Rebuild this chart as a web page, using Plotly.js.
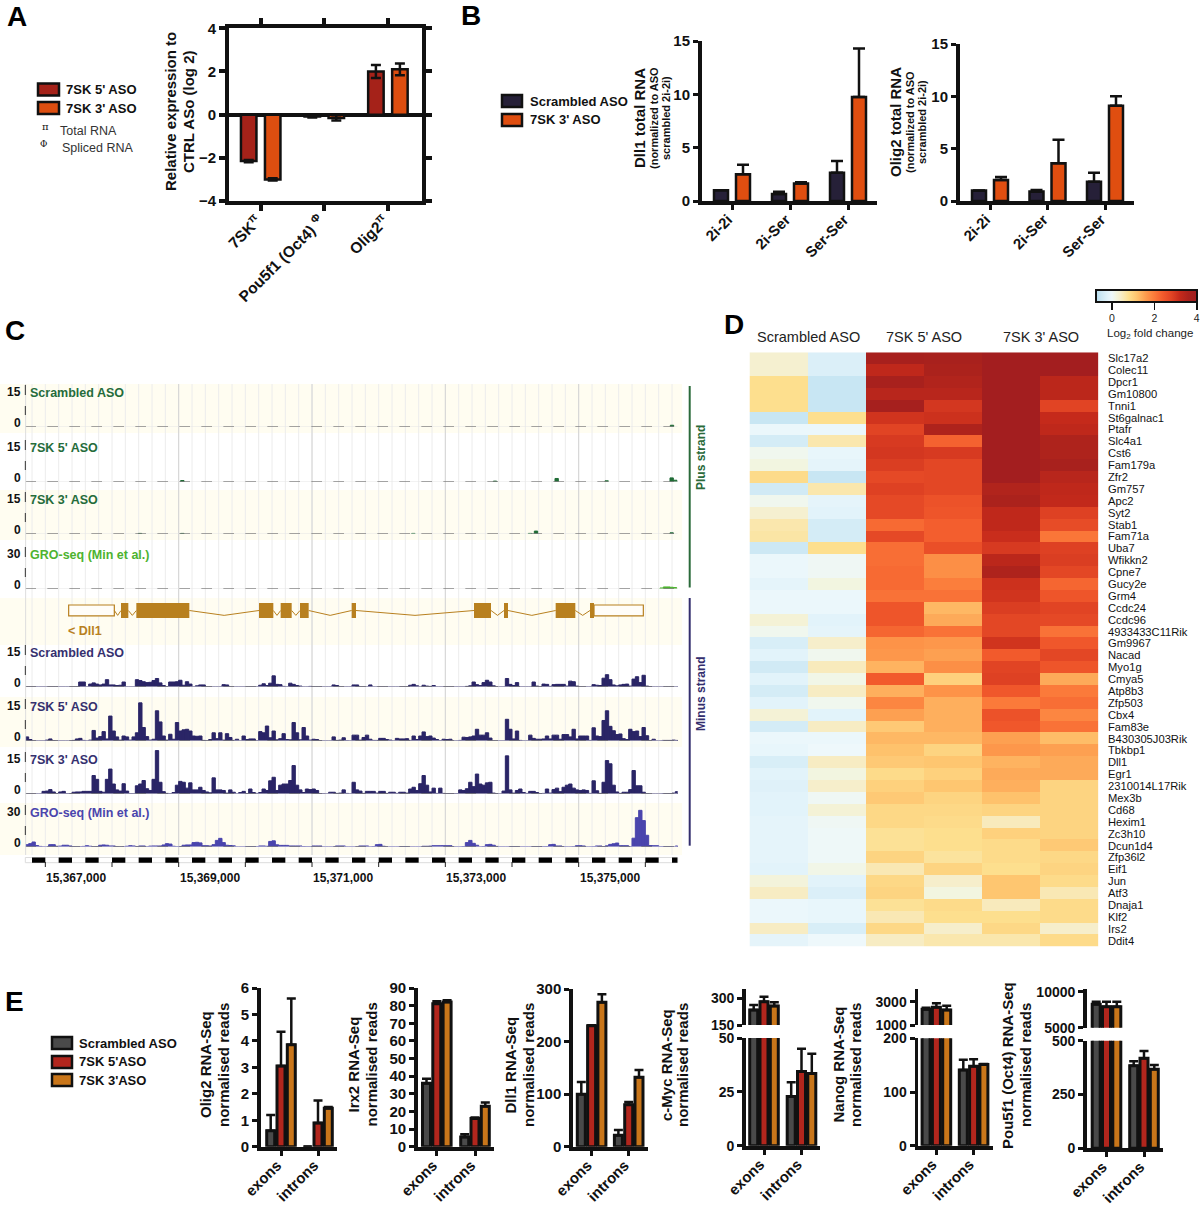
<!DOCTYPE html>
<html><head><meta charset="utf-8">
<script src="https://cdn.plot.ly/plotly-3.0.1.min.js"></script>
<style>html,body{margin:0;padding:0;background:#fff}#g{width:1200px;height:1205px}</style></head>
<body><div id="g"></div>
<script>
/* ---------- Panel A ---------- */
const aCategories = ['7SK<sup>π</sup>', 'Pou5f1 (Oct4) <sup>Φ</sup>', 'Olig2<sup>π</sup>'];
const a5Values = [-2.15, -0.08, 2.0];
const a5Err = [0.05, 0.05, 0.3];
const a3Values = [-3.0, -0.15, 2.1];
const a3Err = [0.05, 0.12, 0.27];
/* ---------- Panel B ---------- */
const bCategories = ['2i-2i', '2i-Ser', 'Ser-Ser'];
const dll1Scr = [1, 0.65, 2.65];
const dll1ScrErr = [0, 0.22, 1.1];
const dll13 = [2.5, 1.65, 9.75];
const dll13Err = [0.9, 0.1, 4.55];
const oligScr = [1, 0.9, 1.85];
const oligScrErr = [0, 0.15, 0.85];
const olig3 = [2.0, 3.6, 9.1];
const olig3Err = [0.3, 2.25, 0.9];
/* ---------- Panel C ---------- */
const genomeMajor = [15369000, 15371000, 15373000, 15375000];
const genomeLabelPos = [15367000, 15369000, 15371000, 15373000, 15375000];
const genomeLabels = ['15,367,000', '15,369,000', '15,371,000', '15,373,000', '15,375,000'];
const plusScrPos = [15376400];
const plusScrVal = [0.6];
const plus5Pos = [15369055, 15373745, 15374670, 15375420, 15376395, 15376450];
const plus5Val = [0.5, 0.3, 1.2, 0.4, 1.4, 0.6];
const plus3Pos = [15368420, 15369055, 15372520, 15374270, 15374360, 15376395];
const plus3Val = [0.2, 0.2, 0.2, 0.2, 1.0, 0.4];
const plusGroPos = [15376245, 15376295, 15376345, 15376395, 15376445];
const plusGroVal = [0.7, 1.4, 1.4, 1.2, 1.0];
const minusScr = [
0,0,0,0,0,0,0,0,0,0,0,0,0,0,0,0,1.7,1.7,0,1.0,
1.4,1.0,.7,1.0,2.5,.7,.7,.5,.6,1.7,0,0,0,2.5,2.2,1.8,1.5,1.6,2.2,2.9,
1.4,.5,0,1.7,1.7,1.8,2.3,.6,1.8,1.0,0,.4,.7,.7,0,0,0,0,0,.8,
.7,0,0,0,0,0,0,0,0,0,.6,1.1,.5,1.3,3.8,.9,.8,.2,0,1.3,
.9,.5,.3,0,0,.2,0,0,0,0,0,0,.7,.5,0,0,0,0,.7,.7,
0,0,0,.7,0,0,0,0,0,0,0,0,0,0,0,.6,.9,.4,0,.6,
.3,.2,.5,0,0,0,0,0,0,0,0,0,.2,.4,1.7,.8,.5,1.5,2.3,1.7,
.4,0,0,0,2.9,.9,.5,1.5,0,0,0,0,1.7,.3,0,1.0,.9,.2,.8,.9,
.9,.9,.3,2.0,1.8,.3,0,0,0,0,.8,.6,.5,3.0,4.2,2.5,.7,.4,.7,.9,
1.0,.3,2.7,3.5,1.5,4.0,.3,.1,0,0,0,0,0,0,0,0];
const minus5 = [
1.4,.5,0,0,0,0,.3,.7,.1,0,0,0,0,0,.2,.7,.9,.2,0,.3,
3.6,1.0,1.5,3.2,.7,8.5,3.4,1.4,.3,1.7,1.4,.3,1.4,2.8,13,4.6,1.5,.3,.6,10.3,
6.5,1.7,.3,2.3,.6,6.3,3.4,3.8,4,3.4,1.7,1.6,1.7,.2,0,.5,2.8,.8,2.8,.3,
2.5,1.2,.2,.6,0,1.7,.5,.7,.7,.1,3.2,2.8,5.1,1.1,3.4,.4,.8,2.5,.5,.4,
6.3,2.8,.4,4.6,1.7,.3,.6,.5,.1,0,0,0,1.4,.2,.3,1.1,.1,0,2,2,
.3,1.2,2,.6,.2,.2,.9,.9,.5,.3,0,.9,.7,.7,.8,.2,1.7,.5,1.7,3.1,
1.5,1.7,1.0,.5,.1,.6,.5,.6,0,0,.2,1.3,1.2,1.4,1.7,4,2,2,2.8,1.0,
0,0,0,0,7.4,4,.7,3.4,.2,0,0,2.0,.9,.6,.6,.7,1.7,.7,2,2,
.6,2.2,2.2,1.4,4,.7,1.7,1.7,1.7,.2,4.5,1.7,1.5,7,10.3,5,3.5,2.2,2.4,.8,
.5,4,3.2,3.4,1.5,4.6,1.8,.1,.6,0,0,.2,.2,.2,.3,.2];
const minus3 = [
0,0,0,0,0,.9,1.0,1.5,.7,.1,.7,.9,.1,.1,.6,.7,.7,.9,.9,.9,
6.3,5,.9,.6,5,8.5,3.4,1.4,1,3.5,1.0,.1,.1,2.8,3.4,4.6,1.8,1.2,5,14.8,
4,.8,.2,.1,.5,3,4.3,4,2,3.8,1.4,1.4,2.3,1.2,.7,.4,5.5,1.4,1.4,1.2,
.3,1.4,.6,0,.5,.9,.1,1.7,.5,.2,.5,1.7,1.2,4.5,5.7,1.2,3,3.4,3.4,4.6,
9.7,3,1.4,.5,1.7,1.5,1.7,1.2,.1,.1,0,.6,.6,.2,.3,1.4,.2,0,4,1.4,
1.0,.2,.9,.9,.9,.3,.9,.9,.2,.6,.6,.2,.6,.6,.3,1.7,2.3,1.2,3.5,6.3,
3,.7,2.0,.2,2,.2,.1,.1,.1,.1,1.4,1.2,1.8,4,2.5,6.8,3.4,3,3.8,4,
.3,.1,0,1,13,1.4,.3,1.2,1.7,.5,.2,.9,.9,.5,.1,.2,1.7,.3,1.5,2,
.8,2.3,3,3.4,2,1.4,1.2,1.4,1.2,.2,4.5,1.1,.2,4,11.4,10.3,3,.7,.2,.6,
.6,1.5,8,2.8,2.8,.6,.1,0,0,0,0,.1,.1,.1,.3,.8];
const minusGro = [
1.6,2.3,3.4,1,.4,0,0,1.6,1.6,.5,.6,1.2,1.2,.7,.2,.1,.1,.4,.9,.5,
.1,.3,1.2,1.4,1.2,.7,.7,.2,0,.1,.5,.9,.7,.3,.7,.7,.1,.6,.7,.7,
.7,1.4,2.3,2,.5,.1,.3,1.2,1.4,1.4,3,3.2,2.8,.9,.9,.7,1.6,4.5,5.9,3,
1.2,1,.8,0,0,0,.1,.2,.2,.2,.7,.7,.5,3.8,4.2,1.5,1.1,1.1,1.1,.7,
.7,.7,.7,.3,.1,.1,.7,.7,.7,0,0,0,0,.7,.7,.7,0,0,0,0,
.7,.7,.7,0,.3,1.6,1.8,.5,0,0,0,0,.2,.2,.2,0,0,0,0,.5,
.5,.6,.9,.9,.9,.9,.9,.9,.1,0,0,.3,3,4.5,2.5,1.2,0,.3,1.6,1.8,
1.2,.4,0,0,0,.2,.2,.2,0,0,0,0,.2,.2,.2,.2,.3,1.6,1.8,.7,
.7,.1,0,0,.2,.9,.9,.7,0,0,.1,.7,.7,.3,.8,1.8,2.2,2.7,.9,.9,
.9,.2,6,20,25,18,8,1,.9,.9,.1,.2,.2,.2,0,.7];
const exonStart = [15368135,15368365,15370205,15370530,15370820,15371595,15373430,15373880,15374655,15375170];
const exonEnd   = [15368245,15369160,15370420,15370695,15370950,15371660,15373685,15373940,15374950,15375230];
const utrStart = [15367350,15375230];
const utrEnd   = [15368035,15375970];
/* ---------- Panel D ---------- */
const heatColumns = ['Scrambled 1','Scrambled 2','5p 1','5p 2','3p 1','3p 2'];
const heatGenes = ['Slc17a2','Colec11','Dpcr1','Gm10800','Tnni1','St6galnac1','Ptafr','Slc4a1','Cst6','Fam179a','Zfr2','Gm757','Apc2','Syt2','Stab1','Fam71a','Uba7','Wfikkn2','Cpne7','Gucy2e','Grm4','Ccdc24','Ccdc96','4933433C11Rik','Gm9967','Nacad','Myo1g','Cmya5','Atp8b3','Zfp503','Cbx4','Fam83e','B430305J03Rik','Tbkbp1','Dll1','Egr1','2310014L17Rik','Mex3b','Cd68','Hexim1','Zc3h10','Dcun1d4','Zfp36l2','Eif1','Jun','Atf3','Dnaja1','Klf2','Irs2','Ddit4'];
const heatValues = [
[.35,-.3,3.75,3.7,3.9,3.9],[.35,-.3,3.3,3.6,3.9,3.9],[.8,-.55,3.7,3.5,3.9,3.35],[.8,-.55,3.4,3.4,3.9,3.35],[.8,-.55,3.8,3.0,3.9,2.8],
[-.55,.8,3.05,3.1,3.9,3.2],[-.05,-.05,2.8,3.55,3.9,3.3],[-.4,.6,2.95,2.3,3.9,3.55],[.1,-.1,3.0,2.95,3.9,3.55],[.2,-.15,2.9,2.75,3.9,3.7],
[.85,-.55,2.7,2.75,3.9,3.4],[-.45,.6,2.85,2.75,3.5,3.3],[.1,-.15,2.7,2.55,3.6,3.25],[.35,-.2,2.7,2.5,3.3,2.85],[.6,-.4,2.2,2.35,3.3,2.65],
[.65,-.4,2.7,2.35,3.15,2.05],[-.5,.8,2.15,2.6,2.95,2.85],[-.05,.05,2.15,1.75,3.35,2.9],[-.05,.05,2.2,1.75,3.55,2.75],[-.15,.2,2.2,1.95,3.1,2.25],
[-.05,-.05,2.1,2.1,3.05,2.5],[-.05,-.05,2.5,1.3,2.9,2.8],[.3,-.2,2.5,1.45,2.75,2.7],[.1,-.15,2.25,2.1,2.75,2.1],[-.35,.4,1.7,1.65,3.05,2.45],
[-.2,.1,1.65,1.55,2.4,2.75],[-.45,.5,1.35,1.75,2.8,2.5],[-.2,.15,2.4,1.0,2.85,1.45],[-.4,.45,1.4,1.7,2.45,2.0],[-.2,.1,1.85,1.4,2.0,2.15],
[.3,-.2,1.55,1.4,2.55,1.85],[-.4,.45,1.1,1.4,2.45,2.1],[-.05,-.05,1.3,1.3,1.55,1.25],[-.1,0,1.2,.95,1.65,1.55],[-.35,.45,1.1,1.15,1.35,1.45],
[-.2,.2,.85,1.0,1.45,1.45],[-.25,.4,1.0,1.15,1.4,.95],[-.2,.05,1.1,.95,1.2,.95],[-.2,.3,.9,.9,.95,.95],[-.15,.05,.9,.85,.5,.95],
[-.15,.02,.75,.8,1.0,.95],[-.15,.02,.75,.8,.85,1.1],[-.15,.02,.95,.7,.85,.9],[-.2,.15,.55,.95,.8,.95],[.25,-.2,.9,.4,1.15,.85],
[.45,-.3,.95,.2,1.15,.55],[-.05,-.1,.75,.85,.5,.85],[-.05,-.1,.55,.8,.8,.85],[.45,-.35,.9,.4,.9,.4],[-.15,0,.45,.6,.6,.85]];
/* ---------- Panel E ---------- */
const eCategories = ['exons','introns'];
const eOligScr=[.6,0], eOligScrE=[.6,0], eOlig5=[3.05,.9], eOlig5E=[1.3,.85], eOlig3=[3.85,1.45], eOlig3E=[1.75,.05];
const eIrxScr=[36,5.5], eIrxScrE=[2.5,1.5], eIrx5=[81,16], eIrx5E=[1.5,.5], eIrx3=[82,23], eIrx3E=[1,2];
const eDllScr=[100,22], eDllScrE=[23,10], eDll5=[230,80], eDll5E=[1,5], eDll3=[275,132], eDll3E=[15,14];
const eMycScr=[234,22.8], eMycScrE=[28,6.7], eMyc5=[281,34.5], eMyc5E=[28,10.5], eMyc3=[257,33.5], eMyc3E=[20,9.2];
const eNanScr=[2343,141], eNanScrE=[143,19], eNan5=[2514,148], eNan5E=[343,13], eNan3=[2286,151], eNan3E=[371,1];
const ePouScr=[8240,384], ePouScrE=[360,21], ePou5=[7917,418], ePou5E=[683,34], ePou3=[7917,367], ePou3E=[683,20];

/* ---------- helpers ---------- */
const W=1200,H=1205,FF='Liberation Sans';
const dx=(a,b)=>[a/W,b/W], dy=(t,b)=>[1-b/H,1-t/H];
const data=[],shapes=[],annotations=[],layout={};
let xN=0,yN=0;
function newX(o){xN++;layout['xaxis'+(xN==1?'':xN)]=Object.assign({fixedrange:true,showgrid:false,zeroline:false},o);return 'x'+(xN==1?'':xN);}
function newY(o){yN++;layout['yaxis'+(yN==1?'':yN)]=Object.assign({fixedrange:true,showgrid:false,zeroline:false},o);return 'y'+(yN==1?'':yN);}
function note(t,x,y,o){o=o||{};const an=o.anchor||'left',sh=an=='left'?-1.5:(an=='right'?1.5:0);
  annotations.push({text:t,xref:'paper',yref:'paper',x:(x+sh)/W,y:1-y/H,showarrow:false,xanchor:an,yanchor:'middle',textangle:o.angle||0,
  font:{family:o.family||FF,size:o.size||12,color:o.color||'#111',weight:o.bold?700:400},borderpad:0});}
function swatch(x0,x1,cy,h,fill){shapes.push({type:'rect',xref:'paper',yref:'paper',x0:x0/W,x1:x1/W,y0:1-(cy+h/2)/H,y1:1-(cy-h/2)/H,fillcolor:fill,line:{color:'#111',width:2.5}});}
function vline(x,y0,y1,c,w){shapes.push({type:'line',xref:'paper',yref:'paper',x0:x/W,x1:x/W,y0:1-y0/H,y1:1-y1/H,line:{color:c,width:w}});}
const tickBold=s=>({family:FF,size:s,color:'#111',weight:700});
function gbar(xa,ya,cats,vals,errs,off,w,color,sym,lw,capw,th){
  data.push({type:'bar',xaxis:xa,yaxis:ya,x:cats.map((_,i)=>i),y:vals,width:w,offset:off-w/2,marker:{color:color,line:{color:'#111',width:lw}},
    error_y:{type:'data',symmetric:!!sym,array:errs,arrayminus:sym?errs:errs.map(()=>0),color:'#111',thickness:th,width:capw},hoverinfo:'y'});
}
function xCat(cats,spine,end,t0,t1,o){const s=t1-t0;
  return newX(Object.assign({domain:dx(spine,end),range:[(spine-t0)/s,(end-t0)/s],tickmode:'array',tickvals:cats.map((_,i)=>i),ticktext:cats,tickangle:-45,
    tickfont:tickBold(15),showline:true,linecolor:'#111',linewidth:4,ticks:'outside',ticklen:5,tickwidth:3,tickcolor:'#111',ticklabelstandoff:-5,ticklabelshift:-4},o||{}));}

/* ---------- A ---------- */
{const yName='y'+(yN+1==1?'':yN+1),xa=xCat(aCategories,229,421.7,260.7,324.3,{anchor:yName,mirror:'allticks',ticklen:6,tickwidth:4,tickfont:tickBold(15.5)});
 const ya=newY({domain:dy(28.3,201),range:[-4,4],anchor:xa,tickvals:[-4,-2,0,2,4],tickfont:tickBold(15),showline:true,linecolor:'#111',linewidth:4,mirror:'allticks',ticks:'outside',ticklen:6,tickwidth:4,tickcolor:'#111',zeroline:true,zerolinecolor:'#111',zerolinewidth:4});
 const s=63.6; gbar(xa,ya,aCategories,a5Values,a5Err,-12/s,15.5/s,'#a52219',true,2.5,5,2.5);
 gbar(xa,ya,aCategories,a3Values,a3Err,12/s,15.5/s,'#dd4e10',true,2.5,5,2.5);
 swatch(38,59,89.5,12,'#a52219');swatch(38,59,108,12,'#dd4e10');
 note("7SK 5' ASO",66,89.5,{size:13,bold:true});note("7SK 3' ASO",66,108,{size:13,bold:true});
 note('π',42,127,{size:10,family:'DejaVu Serif'});note('Total RNA',60,131,{size:12.5,color:'#333'});
 note('Φ',41,144,{size:9,family:'DejaVu Serif'});note('Spliced RNA',62,148,{size:12.5,color:'#333'});
 note('Relative expression to',170,112,{size:15,bold:true,angle:-90,anchor:'center'});
 note('CTRL ASo (log 2)',188,112,{size:15,bold:true,angle:-90,anchor:'center'});
}
/* ---------- B ---------- */
function panelB(spine,end,t0,t1,top,s1,s2,e1,e2){
 const xa=xCat(bCategories,spine,end,t0,t1,{anchor:'y'+(yN+1)});
 const ya=newY({domain:dy(top,201),range:[0,15],anchor:xa,tickvals:[0,5,10,15],tickfont:tickBold(15),showline:true,linecolor:'#111',linewidth:4,ticks:'outside',ticklen:5,tickwidth:3,tickcolor:'#111'});
 const s=t1-t0; gbar(xa,ya,bCategories,s1,e1,-11/s,14/s,'#262038',false,2.5,6,2.5);
 gbar(xa,ya,bCategories,s2,e2,11/s,14/s,'#e04e10',false,2.5,6,2.5);
}
panelB(702,876.5,732,790,41,dll1Scr,dll13,dll1ScrErr,dll13Err);
panelB(960,1134,990,1047.5,44,oligScr,olig3,oligScrErr,olig3Err);
swatch(502,522,101,12,'#262038');swatch(502,522,120,12,'#e04e10');
note('Scrambled ASO',530,101,{size:13,bold:true});note("7SK 3' ASO",530,120,{size:13,bold:true});
note('Dll1 total RNA',640,118,{size:15,bold:true,angle:-90,anchor:'center'});
note('(normalized to ASO',654,118,{size:11,bold:true,angle:-90,anchor:'center'});
note('scrambled 2i-2i)',666,118,{size:11,bold:true,angle:-90,anchor:'center'});
note('Olig2 total RNA',896,122,{size:15,bold:true,angle:-90,anchor:'center'});
note('(normalized to ASO',910,122,{size:11,bold:true,angle:-90,anchor:'center'});
note('scrambled 2i-2i)',922,122,{size:11,bold:true,angle:-90,anchor:'center'});

/* ---------- C ---------- */
const G0=15366700,G1=15376485,BIN=50,GL=25.33,GR=677.67;
const xG=newX({domain:dx(GL,GR),range:[G0,G1],visible:false,anchor:'y'+(yN+1)});
[[384,433],[490,540],[598,645],[697,747],[803,855]].forEach(b=>shapes.push({type:'rect',layer:'below',xref:'paper',yref:'paper',x0:0,x1:682/W,y0:1-b[1]/H,y1:1-b[0]/H,fillcolor:'#fffdf1',line:{width:0}}));
for(let g=15366800;g<=15376400;g+=200){shapes.push({type:'line',layer:'below',xref:xG,yref:'paper',x0:g,x1:g,y0:1-855/H,y1:1-384/H,line:{color:'#ececec',width:1}});}
genomeMajor.forEach(g=>shapes.push({type:'line',layer:'below',xref:xG,yref:'paper',x0:g,x1:g,y0:1-855/H,y1:1-384/H,line:{color:'#d4d4d4',width:1}}));
vline(GL+0.3,384,855,'#dddddd',1);
const binX=a=>a.map((_,i)=>G0+(i+.5)*BIN);
const tracks=[
 {base:427,max:15,name:'Scrambled ASO',color:'#1f6b35',lab:'#256c3b',x:plusScrPos,y:plusScrVal},
 {base:482,max:15,name:"7SK 5' ASO",color:'#1f6b35',lab:'#256c3b',x:plus5Pos,y:plus5Val},
 {base:534,max:15,name:"7SK 3' ASO",color:'#1f6b35',lab:'#256c3b',x:plus3Pos,y:plus3Val},
 {base:589,max:30,name:'GRO-seq (Min et al.)',color:'#4db32f',lab:'#4db32f',x:plusGroPos,y:plusGroVal},
 {base:687,max:15,name:'Scrambled ASO',color:'#2a2566',lab:'#35306f',x:binX(minusScr),y:minusScr},
 {base:741,max:15,name:"7SK 5' ASO",color:'#2a2566',lab:'#35306f',x:binX(minus5),y:minus5},
 {base:794,max:15,name:"7SK 3' ASO",color:'#2a2566',lab:'#35306f',x:binX(minus3),y:minus3},
 {base:847,max:30,name:'GRO-seq (Min et al.)',color:'#4a45ad',lab:'#4a45ad',x:binX(minusGro),y:minusGro}];
tracks.forEach(t=>{
 const ya=newY({domain:dy(t.base-44,t.base),range:[0,t.max],anchor:xG,visible:false});
 data.push({type:'scatter',mode:'lines',xaxis:xG,yaxis:ya,x:[G0,G1],y:[0,0],line:{color:'#e4e4e4',width:1},cliponaxis:false,hoverinfo:'skip'});
 data.push({type:'scatter',mode:'lines',xaxis:xG,yaxis:ya,x:[G0,G1],y:[0,0],line:{color:'#555',width:1.2,dash:'10.7px,11.3px'},cliponaxis:false,hoverinfo:'skip'});
 data.push({type:'bar',xaxis:xG,yaxis:ya,x:t.x,y:t.y,width:BIN,offset:-BIN/2,marker:{color:t.color,line:{color:t.color,width:1}},hoverinfo:'y'});
 note(String(t.max),20,t.base-35,{size:12,bold:true,anchor:'right'});
 note('0',20,t.base-4,{size:12,bold:true,anchor:'right'});
 vline(GL,t.base-42,t.base-32,'#333',1);vline(GL,t.base-21,t.base-12,'#333',1);
 note(t.name,30.5,t.base-34,{size:12.5,bold:true,color:t.lab});
});
/* gene model */
{const ya=newY({domain:dy(603,618),range:[-1,1],anchor:xG,visible:false});
 const brown='#b8801f';
 const order=utrStart.concat(exonStart).map((s,i)=>[s,utrEnd.concat(exonEnd)[i]]).sort((a,b)=>a[0]-b[0]);
 const ix=[],iy=[];
 for(let i=0;i<order.length-1;i++){const s=order[i][1],e=order[i+1][0];if(e>s){ix.push(s,(s+e)/2,e,null);iy.push(0,-.65,0,null);}}
 data.push({type:'scatter',mode:'lines',xaxis:xG,yaxis:ya,x:ix,y:iy,line:{color:brown,width:1},cliponaxis:false,hoverinfo:'skip'});
 data.push({type:'bar',xaxis:xG,yaxis:ya,x:utrStart.map((s,i)=>(s+utrEnd[i])/2),y:utrStart.map(()=>1.45),base:-.72,width:utrStart.map((s,i)=>utrEnd[i]-s),marker:{color:'#fffdf8',line:{color:brown,width:1.2}},hoverinfo:'skip'});
 data.push({type:'bar',xaxis:xG,yaxis:ya,x:exonStart.map((s,i)=>(s+exonEnd[i])/2),y:exonStart.map(()=>2),base:-1,width:exonStart.map((s,i)=>exonEnd[i]-s),marker:{color:brown,line:{width:0}},hoverinfo:'skip'});
 note('&lt; Dll1',68.5,630.5,{size:12.5,bold:true,color:brown});
}
/* ruler */
shapes.push({type:'rect',xref:'paper',yref:'paper',x0:GL/W,x1:GR/W,y0:1-862.7/H,y1:1-857.5/H,fillcolor:'#fff',line:{color:'#dcdcdc',width:1}});
for(let g=15366800;g<G1;g+=400){shapes.push({type:'rect',xref:xG,yref:'paper',x0:g,x1:Math.min(g+200,G1),y0:1-862.7/H,y1:1-857.5/H,fillcolor:'#000',line:{width:0}});}
for(let g=15367000;g<G1;g+=1000){shapes.push({type:'line',xref:xG,yref:'paper',x0:g,x1:g,y0:1-867/H,y1:1-862/H,line:{color:'#222',width:1}});}
genomeLabelPos.forEach((g,i)=>annotations.push({text:genomeLabels[i],xref:xG,yref:'paper',x:g,y:1-877.5/H,xshift:31,showarrow:false,xanchor:'center',yanchor:'middle',font:{family:FF,size:12,weight:700,color:'#111'}}));
vline(689.7,386,587.5,'#2a6a3a',2);vline(689.7,598,845.7,'#332e6e',2);
note('Plus strand',701,457,{size:12,bold:true,color:'#2a6a3a',angle:-90,anchor:'center'});
note('Minus strand',701,693,{size:12,bold:true,color:'#332e6e',angle:-90,anchor:'center'});

/* ---------- D ---------- */
{const xa=newX({domain:dx(749.5,1098.3),range:[-.5,5.5],visible:false,anchor:'y'+(yN+1)});
 const ya=newY({domain:dy(352.3,946.7),range:[49.5,-.5],anchor:xa,side:'right',tickmode:'array',tickvals:heatGenes.map((_,i)=>i),ticktext:heatGenes,ticks:'outside',ticklen:6.5,tickcolor:'rgba(0,0,0,0)',tickfont:{family:FF,size:11.2,color:'#111'},showline:false});
 const Z=[-.75,-.5,-.2,0,.2,.4,.8,1.2,1.6,2.0,2.4,2.8,3.2,3.6,4.01];
 const C=['#b5dcee','#cde8f4','#e2f3fa','#eef8fb','#f2f5e0','#f6eecb','#fddf8e','#fec26c','#fd9b4d','#fb7a3a','#f25a2c','#e14424','#c52a1b','#ab221c','#a01d20'];
 data.push({type:'heatmap',xaxis:xa,yaxis:ya,z:heatValues,x:heatColumns.map((_,i)=>i),y:heatGenes.map((_,i)=>i),zmin:-.75,zmax:4.01,
  colorscale:Z.map((v,i)=>[(v+.75)/4.76,C[i]]),
  colorbar:{orientation:'h',xref:'paper',yref:'paper',x:1096/W,xanchor:'left',y:1-290/H,yanchor:'top',len:101,lenmode:'pixels',thickness:12,thicknessmode:'pixels',outlinewidth:2,outlinecolor:'#111',xpad:0,ypad:0,
   tickmode:'array',tickvals:[0,2,4],ticks:'outside',ticklen:7,tickwidth:1.5,tickcolor:'#111',tickfont:{family:FF,size:10.5,color:'#222'}}});
 note('Scrambled ASO',808,337,{size:14.5,anchor:'center',color:'#222'});
 note("7SK 5' ASO",924,337,{size:14.5,anchor:'center',color:'#222'});
 note("7SK 3' ASO",1041,337,{size:14.5,anchor:'center',color:'#222'});
 note('Log<sub>2</sub> fold change',1107,334,{size:11.5,color:'#222'});
}
/* ---------- E ---------- */
function panelE(o){
 const s=o.t1-o.t0, lowerTop=o.upper?o.lowerTop:o.top, fs=o.upper?14:15;
 const xa=xCat(eCategories,o.spine,o.end,o.t0,o.t1,{anchor:'y'+(yN+1)});
 const axisY={anchor:xa,tickfont:tickBold(fs),showline:true,linecolor:'#111',linewidth:3.5,ticks:'outside',ticklen:5,tickwidth:3,tickcolor:'#111',tickmode:'array',tickformat:'d'};
 const yl=newY(Object.assign({domain:dy(lowerTop,o.zero),range:o.range,tickvals:o.ticks},axisY));
 const series=[[o.a,o.ae,'#4a4a4a',-10.3],[o.b,o.be,'#b2261d',0],[o.c,o.ce,'#c9761a',10.3]];
 series.forEach(r=>gbar(xa,yl,eCategories,r[0],r[1],r[3]/s,8/s,r[2],false,3,4.5,2.5));
 if(o.upper){
  const yu=newY(Object.assign({domain:dy(989,o.upper.bottom),range:o.upper.range,tickvals:o.upper.ticks},axisY));
  series.forEach(r=>gbar(xa,yu,eCategories,r[0],r[1],r[3]/s,8/s,r[2],false,3,4.5,2.5));
 }
 note(o.t1a,o.tx1,1065,{size:15,bold:true,angle:-90,anchor:'center'});
 note('normalised reads',o.tx2,1065,{size:15,bold:true,angle:-90,anchor:'center'});
}
panelE({spine:260.5,end:337,t0:281,t1:318,top:988,zero:1146.7,range:[0,6],ticks:[0,1,2,3,4,5,6],a:eOligScr,ae:eOligScrE,b:eOlig5,be:eOlig5E,c:eOlig3,ce:eOlig3E,t1a:'Olig2 RNA-Seq',tx1:205,tx2:223});
panelE({spine:417.6,end:493.5,t0:436.8,t1:475,top:988,zero:1146.7,range:[0,90],ticks:[0,10,20,30,40,50,60,70,80,90],a:eIrxScr,ae:eIrxScrE,b:eIrx5,be:eIrx5E,c:eIrx3,ce:eIrx3E,t1a:'Irx2 RNA-Seq',tx1:352.5,tx2:370.5});
panelE({spine:572.8,end:648,t0:591.6,t1:628.7,top:989,zero:1146.7,range:[0,300],ticks:[0,100,200,300],a:eDllScr,ae:eDllScrE,b:eDll5,be:eDll5E,c:eDll3,ce:eDll3E,t1a:'Dll1 RNA-Seq',tx1:509.6,tx2:528});
panelE({spine:745.6,end:820,t0:764,t1:801.5,lowerTop:1038,zero:1145.7,range:[0,50],ticks:[0,25,50],upper:{bottom:1025,range:[150,352],ticks:[150,300]},a:eMycScr,ae:eMycScrE,b:eMyc5,be:eMyc5E,c:eMyc3,ce:eMyc3E,t1a:'c-Myc RNA-Seq',tx1:666,tx2:682});
panelE({spine:918,end:992.7,t0:936.4,t1:973.6,lowerTop:1038.3,zero:1145.7,range:[0,200],ticks:[0,100,200],upper:{bottom:1025,range:[1000,4086],ticks:[1000,3000]},a:eNanScr,ae:eNanScrE,b:eNan5,be:eNan5E,c:eNan3,ce:eNan3E,t1a:'Nanog RNA-Seq',tx1:837.5,tx2:855});
panelE({spine:1086.6,end:1163,t0:1106.5,t1:1144,lowerTop:1040.7,zero:1148.3,range:[0,500],ticks:[0,250,500],upper:{bottom:1027.7,range:[5000,10375],ticks:[5000,10000]},a:ePouScr,ae:ePouScrE,b:ePou5,be:ePou5E,c:ePou3,ce:ePou3E,t1a:'Pou5f1 (Oct4) RNA-Seq',tx1:1007,tx2:1025});
swatch(52,72,1043,12,'#4a4a4a');swatch(52,72,1062,12,'#b2261d');swatch(52,72,1080,12,'#c9761a');
note('Scrambled ASO',79.5,1043,{size:13,bold:true});note("7SK 5'ASO",79.5,1061.5,{size:13,bold:true});note("7SK 3'ASO",79.5,1080,{size:13,bold:true});

/* panel letters */
[['A',16.5,17],['B',471,16],['C',15,330],['D',734,325],['E',14,1001]].forEach(l=>note(l[0],l[1],l[2],{size:28,bold:true,anchor:'center',color:'#000'}));

Object.assign(layout,{width:W,height:H,margin:{l:0,r:0,t:0,b:0},paper_bgcolor:'#fff',plot_bgcolor:'rgba(0,0,0,0)',showlegend:false,barmode:'overlay',font:{family:FF,color:'#111'},shapes:shapes,annotations:annotations,hovermode:false});
Plotly.newPlot('g',data,layout,{staticPlot:true,displayModeBar:false});
</script></body></html>
